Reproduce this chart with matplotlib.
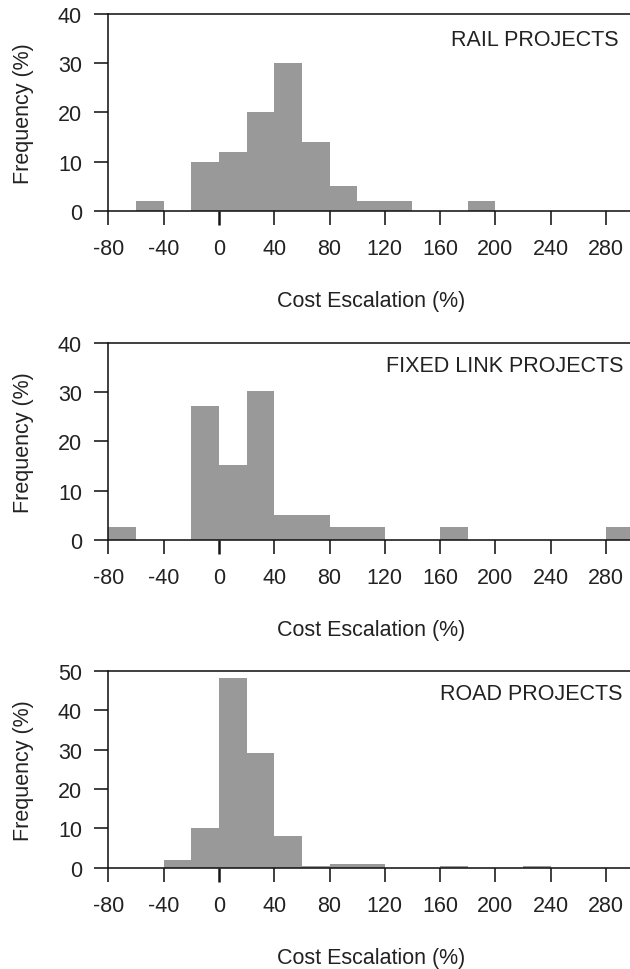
import matplotlib
matplotlib.use("Agg")
import matplotlib.pyplot as plt
import numpy as np

plt.rcParams['font.family'] = ['Liberation Sans', 'DejaVu Sans']

# Bin edges of the histograms (cost escalation, %)
bin_edges = list(range(-80, 320, 20))  # -80 ... 300

# Frequencies (%) per 20-point bin
rail_freq = [0, 2, 0, 10, 12, 20, 30, 14, 5, 2, 2, 0, 0, 2, 0, 0, 0, 0, 0]
fixed_link_freq = [2.6, 0, 0, 27.2, 15.2, 30.2, 5, 5, 2.6, 2.6, 0, 0, 2.6, 0, 0, 0, 0, 0, 2.6]
road_freq = [0, 0, 2, 10, 48.2, 29.2, 8.1, 0.5, 1.0, 1.0, 0, 0, 0.4, 0, 0, 0.4, 0, 0, 0]

panel_titles = ["RAIL PROJECTS", "FIXED LINK PROJECTS", "ROAD PROJECTS"]
panel_data = [rail_freq, fixed_link_freq, road_freq]
y_limits = [40, 40, 50]
x_ticks = [-80, -40, 0, 40, 80, 120, 160, 200, 240, 280]
xlabel_text = "Cost Escalation (%)"
ylabel_text = "Frequency (%)"

W, H = 630, 970
fig = plt.figure(figsize=(W / 100, H / 100), dpi=100)

ax_left_px = 108.3
ax_right_px = 633.7
ax_h_px = 196.7
ax_bottoms_px = [211.7, 540.7, 868.7]
title_right_px = [619, 624, 622]
title_center_below_top = [25, 23, 23]

text_color = "#222222"
line_color = "#151515"
bar_color = "#999999"
fs = 15.5

for i, (title, freq, ymax) in enumerate(zip(panel_titles, panel_data, y_limits)):
    left = ax_left_px / W
    width = (ax_right_px - ax_left_px) / W
    bottom = 1 - ax_bottoms_px[i] / H
    height = ax_h_px / H
    ax = fig.add_axes([left, bottom, width, height])

    edges = np.array(bin_edges, dtype=float)
    ax.bar(edges[:-1], freq, width=np.diff(edges), align='edge',
           color=bar_color, edgecolor='none', linewidth=0, zorder=2)

    ax.set_xlim(-80, 300)
    ax.set_ylim(0, ymax)
    ax.set_xticks(x_ticks)
    ax.set_xticklabels([str(t) for t in x_ticks])
    ax.set_yticks(np.arange(0, ymax + 1, 10))

    for side in ['top', 'left', 'bottom']:
        ax.spines[side].set_color(line_color)
        ax.spines[side].set_linewidth(1.15)
        ax.spines[side].set_zorder(3)
    ax.spines['right'].set_visible(False)

    ax.tick_params(axis='both', direction='out', length=10, width=1.15,
                   color=line_color, labelcolor=text_color, labelsize=fs)
    ax.tick_params(axis='x', pad=10)
    ax.tick_params(axis='y', pad=9)
    # the zero tick looks a bit heavier in the original
    for t in ax.xaxis.get_major_ticks():
        if t.get_loc() == 0:
            t.tick1line.set_markeredgewidth(1.8)

    ax.set_xlabel(xlabel_text, fontsize=fs, color=text_color)
    ax.xaxis.set_label_coords(0.5, -90 / ax_h_px)
    ax.xaxis.label.set_va('center')

    ax.set_ylabel(ylabel_text, fontsize=fs, color=text_color)
    ax.yaxis.set_label_coords(-(ax_left_px - 23) / (ax_right_px - ax_left_px), 0.5)
    ax.yaxis.label.set_va('center')

    ax.text((title_right_px[i] - ax_left_px) / (ax_right_px - ax_left_px),
            1 - title_center_below_top[i] / ax_h_px, title,
            transform=ax.transAxes, ha='right', va='center',
            fontsize=fs, color=text_color)

fig.savefig("out.png", dpi=100)
